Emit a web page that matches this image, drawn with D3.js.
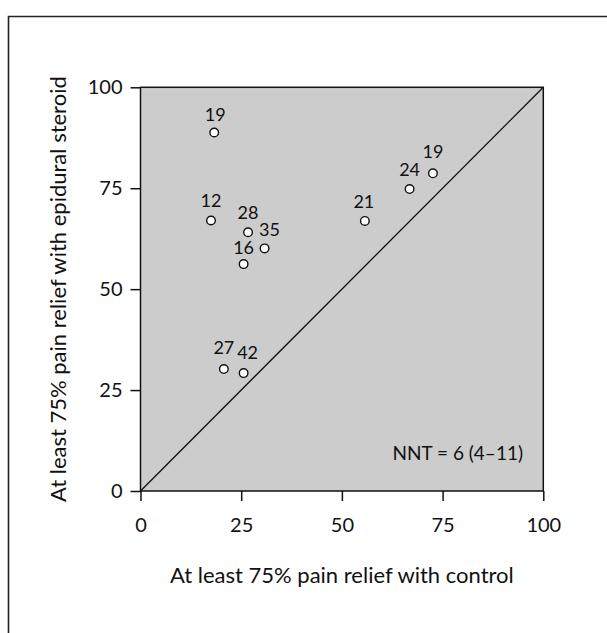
<!DOCTYPE html>
<html>
<head>
<meta charset="utf-8">
<script src="https://cdn.jsdelivr.net/npm/d3@7"></script>
<style>
  html, body { margin: 0; padding: 0; background: #fff; }
  svg { display: block; }
  text { font-family: Lato, "DejaVu Sans", sans-serif; fill: #111; }
</style>
</head>
<body>
<svg id="chart" width="607" height="633"></svg>
<script>
// Trial results: % of patients with at least 75% pain relief
const trialSizes = ["19", "12", "28", "35", "16", "19", "24", "21", "27", "42"];
const controlRelief = [18.3, 17.5, 26.7, 30.8, 25.6, 72.6, 66.8, 55.7, 20.7, 25.6];
const steroidRelief = [88.8, 67.0, 64.1, 60.1, 56.2, 78.7, 74.8, 66.9, 30.2, 29.2];
const tickValues = [0, 25, 50, 75, 100];
const xTitle = "At least 75% pain relief with control";
const yTitle = "At least 75% pain relief with epidural steroid";
const nntNote = "NNT = 6 (4\u201311)";

// label nudges (dx, dy) relative to each point
const labelNudge = [[1, -12], [0, -14], [0, -13], [5, -12], [0, -10], [0, -15], [0, -13], [-1, -13], [0, -15], [4, -14]];

const svg = d3.select("#chart");
const plot = { left: 140.5, right: 543.3, top: 87.3, bottom: 491 };

const x = d3.scaleLinear().domain([0, 100]).range([plot.left, plot.right]);
const y = d3.scaleLinear().domain([0, 100]).range([plot.bottom, plot.top]);

// outer frame (top and left edges)
svg.append("path")
  .attr("d", `M8.5,633 L8.5,16.5 L607,16.5`)
  .attr("fill", "none")
  .attr("stroke", "#222")
  .attr("stroke-width", 1.6);

// shaded plotting area
svg.append("rect")
  .attr("x", x(0)).attr("y", y(100))
  .attr("width", x(100) - x(0)).attr("height", y(0) - y(100))
  .attr("fill", "#cccccc")
  .attr("stroke", "#111")
  .attr("stroke-width", 1.5);

// line of equality
svg.append("line")
  .attr("x1", x(0)).attr("y1", y(0))
  .attr("x2", x(100)).attr("y2", y(100))
  .attr("stroke", "#111")
  .attr("stroke-width", 1.3);

// axes
const xAxis = d3.axisBottom(x).tickValues(tickValues).tickSize(10).tickPadding(17).tickSizeOuter(0);
const yAxis = d3.axisLeft(y).tickValues(tickValues).tickSize(10).tickPadding(8).tickSizeOuter(0);

const gx = svg.append("g").attr("transform", `translate(0,${y(0)})`).call(xAxis);
const gy = svg.append("g").attr("transform", `translate(${x(0)},0)`).call(yAxis);
[gx, gy].forEach(g => {
  g.select(".domain").remove();
  g.selectAll(".tick line").attr("stroke", "#111").attr("stroke-width", 1.5);
  g.selectAll(".tick text")
    .attr("fill", "#111")
    .style("font-family", "Lato, 'DejaVu Sans', sans-serif")
    .style("font-size", "20px");
});

// points
const pts = trialSizes.map((n, i) => ({ n, cx: controlRelief[i], sy: steroidRelief[i], nudge: labelNudge[i] }));

svg.append("g").selectAll("circle")
  .data(pts)
  .join("circle")
  .attr("cx", d => x(d.cx))
  .attr("cy", d => y(d.sy))
  .attr("r", 4.3)
  .attr("fill", "#fff")
  .attr("stroke", "#111")
  .attr("stroke-width", 1.4);

svg.append("g").selectAll("text")
  .data(pts)
  .join("text")
  .attr("x", d => x(d.cx) + d.nudge[0])
  .attr("y", d => y(d.sy) + d.nudge[1])
  .attr("text-anchor", "middle")
  .style("font-size", "18px")
  .text(d => d.n);

// NNT annotation
svg.append("text")
  .attr("x", 523)
  .attr("y", 460)
  .attr("text-anchor", "end")
  .style("font-size", "19px")
  .text(nntNote);

// axis titles
svg.append("text")
  .attr("x", (plot.left + plot.right) / 2)
  .attr("y", 583)
  .attr("text-anchor", "middle")
  .style("font-size", "22px")
  .text(xTitle);

svg.append("text")
  .attr("transform", `translate(66,${(plot.top + plot.bottom) / 2}) rotate(-90)`)
  .attr("text-anchor", "middle")
  .style("font-size", "22px")
  .text(yTitle);
</script>
</body>
</html>
